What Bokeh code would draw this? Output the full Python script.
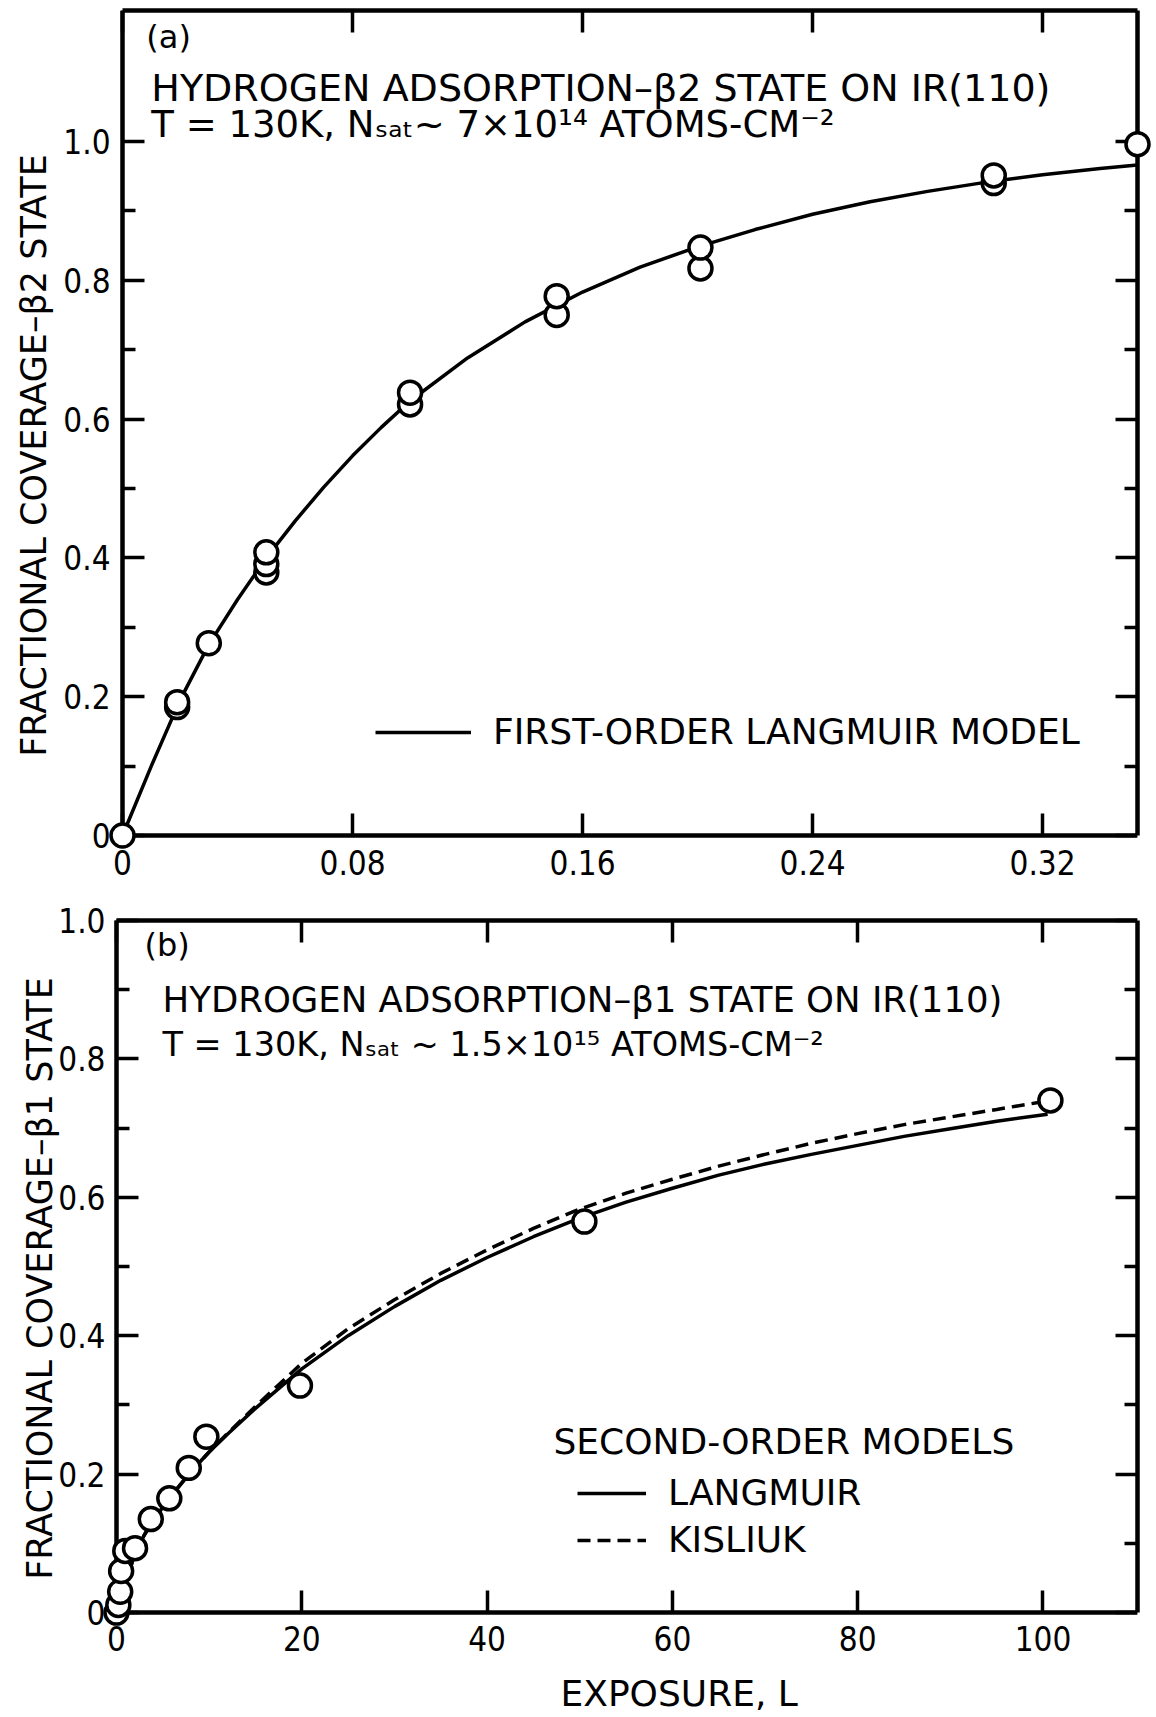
import math
from bokeh.plotting import figure
from bokeh.models import LinearAxis, FixedTicker, Range1d, Label, Legend, LegendItem
from bokeh.layouts import column
from bokeh.embed import file_html
from bokeh.resources import INLINE

# ---------------- panel (a) data ----------------
a_points_x = [0.0, 0.019, 0.019, 0.030, 0.050, 0.050, 0.050, 0.100, 0.100,
              0.151, 0.151, 0.201, 0.201, 0.303, 0.303, 0.353]
a_points_y = [0.000, 0.185, 0.192, 0.277, 0.379, 0.391, 0.408, 0.621, 0.638,
              0.750, 0.777, 0.817, 0.847, 0.940, 0.951, 0.996]
a_model_x = [0.0, 0.01, 0.02, 0.03, 0.04, 0.05, 0.06, 0.07, 0.08, 0.09, 0.10,
             0.12, 0.14, 0.16, 0.18, 0.20, 0.22, 0.24, 0.26, 0.28, 0.30, 0.32,
             0.34, 0.353]
a_model_y = [0.0, 0.100, 0.195, 0.275, 0.340, 0.400, 0.453, 0.502, 0.547, 0.588,
             0.626, 0.688, 0.740, 0.783, 0.819, 0.848, 0.873, 0.895, 0.913, 0.928,
             0.941, 0.952, 0.961, 0.966]
a_xticks = [0, 0.08, 0.16, 0.24, 0.32]
a_xtick_labels = ["0", "0.08", "0.16", "0.24", "0.32"]
a_yticks = [0, 0.2, 0.4, 0.6, 0.8, 1.0]
a_ytick_labels = ["0", "0.2", "0.4", "0.6", "0.8", "1.0"]
a_yminor = [0.1, 0.3, 0.5, 0.7, 0.9]

# ---------------- panel (b) data ----------------
b_points_x = [0.0, 0.2, 0.4, 0.5, 0.95, 2.0, 3.7, 5.7, 7.8, 9.7, 19.8, 50.5, 100.8]
b_points_y = [0.000, 0.011, 0.030, 0.060, 0.089, 0.093, 0.135, 0.165, 0.209,
              0.254, 0.328, 0.565, 0.740]
b_lang_x = [0, 1, 2, 3, 4, 5, 6, 8, 10, 12, 15, 20, 25, 30, 35, 40, 45, 50, 55,
            60, 65, 70, 75, 80, 85, 90, 95, 100.5]
b_lang_y = [0.0, 0.045, 0.085, 0.112, 0.134, 0.152, 0.170, 0.203, 0.232, 0.258,
            0.295, 0.352, 0.400, 0.442, 0.480, 0.513, 0.543, 0.570, 0.593, 0.613,
            0.632, 0.648, 0.662, 0.675, 0.688, 0.699, 0.710, 0.720]
b_kis_x = [0, 1, 2, 3, 4, 5, 6, 8, 10, 12, 15, 20, 25, 30, 35, 40, 45, 50, 55,
           60, 65, 70, 75, 80, 85, 90, 95, 99.5]
b_kis_y = [0.0, 0.045, 0.085, 0.112, 0.134, 0.152, 0.170, 0.203, 0.232, 0.259,
           0.298, 0.360, 0.410, 0.452, 0.490, 0.524, 0.555, 0.583, 0.606, 0.626,
           0.645, 0.662, 0.678, 0.692, 0.705, 0.716, 0.727, 0.737]
b_xticks = [0, 20, 40, 60, 80, 100]
b_xtick_labels = ["0", "20", "40", "60", "80", "100"]
b_yticks = [0, 0.2, 0.4, 0.6, 0.8, 1.0]
b_ytick_labels = ["0", "0.2", "0.4", "0.6", "0.8", "1.0"]
b_yminor = [0.1, 0.3, 0.5, 0.7, 0.9]

FONT = "DejaVu Sans"
TICK_FONT = "DejaVu Sans Condensed"
PAGE_X = 0        # Bokeh's page template has no body margin
TEXT_SHIFT = 13   # rendered labels sit this far below the requested baseline

# geometry (image pixels)
GA = dict(top=0, width=1156, height=888, left=0, right=10, tb=10, bb=27,
          xr=(-0.04244, 0.353), yr=(-0.03746, 1.1886), yaxis_top=1.1886)
GB = dict(top=888, width=1156, height=829, left=0, right=19, tb=0, bb=0,
          xr=(-12.52, 110.2), yr=(-0.1517, 1.0462), yaxis_top=1.0)


def frame_box(g):
    fx0 = PAGE_X + g["left"]
    fx1 = PAGE_X + g["width"] - g["right"]
    fy0 = g["top"] + g["tb"]
    fy1 = g["top"] + g["height"] - g["bb"]
    return fx0, fx1, fy0, fy1


def img_to_data(g, px, py):
    fx0, fx1, fy0, fy1 = frame_box(g)
    x = g["xr"][0] + (px - fx0) / (fx1 - fx0) * (g["xr"][1] - g["xr"][0])
    y = g["yr"][1] - (py - fy0) / (fy1 - fy0) * (g["yr"][1] - g["yr"][0])
    return x, y


def make_fig(g):
    p = figure(width=g["width"], height=g["height"],
               x_range=Range1d(*g["xr"]), y_range=Range1d(*g["yr"]),
               x_axis_location=None, y_axis_location=None,
               toolbar_location=None, output_backend="svg",
               min_border_left=g["left"], min_border_right=g["right"],
               min_border_top=g["tb"], min_border_bottom=g["bb"])
    p.outline_line_color = None
    p.xgrid.visible = False
    p.ygrid.visible = False
    p.background_fill_color = "white"
    p.border_fill_color = "white"
    return p


def overrides(ticks, labels):
    d = {}
    for t, l in zip(ticks, labels):
        d[t] = l
        d[str(t)] = l
    return d


def tick_axis(positions, length, bounds, fixed=None, line=False):
    """Axis that only draws inward ticks (and optionally its line); no labels."""
    kw = dict(ticker=FixedTicker(ticks=[], minor_ticks=positions), bounds=bounds,
              minor_tick_in=length, minor_tick_out=0, minor_tick_line_width=3.5,
              minor_tick_line_color="black", major_tick_in=0, major_tick_out=0,
              major_label_standoff=0,
              axis_line_width=4.5, axis_line_color="black" if line else None)
    if fixed is not None:
        kw["fixed_location"] = fixed
    return LinearAxis(**kw)


def label_axis(ticks, labels, standoff, fixed=None):
    """Axis that only draws tick labels."""
    kw = dict(ticker=FixedTicker(ticks=ticks, minor_ticks=[]),
              major_tick_in=0, major_tick_out=0, minor_tick_in=0, minor_tick_out=0,
              major_tick_line_color=None, minor_tick_line_color=None,
              axis_line_color=None,
              major_label_overrides=overrides(ticks, labels),
              major_label_text_font=TICK_FONT, major_label_text_font_size="33px",
              major_label_text_color="black", major_label_standoff=standoff)
    if fixed is not None:
        kw["fixed_location"] = fixed
    return LinearAxis(**kw)


def add_text(p, g, px, py, text, size, vertical=False, align="left"):
    if vertical:
        px -= TEXT_SHIFT
    else:
        py -= TEXT_SHIFT
    x, y = img_to_data(g, px, py)
    p.add_layout(Label(x=x, y=y, text=text, text_font=FONT,
                       angle=math.pi / 2 if vertical else 0.0,
                       text_font_size=f"{size}px", text_align=align,
                       text_baseline="alphabetic", text_color="black"))


def legend_loc(g, px_left, py_bottom):
    fx0, fx1, fy0, fy1 = frame_box(g)
    return (px_left - fx0, fy1 - py_bottom)


def add_frame(p, g, xticks, yticks, yminor, top_fixed=None):
    x_end = g["xr"][1]
    y_top = g["yaxis_top"]
    # left axis line at x = 0
    p.add_layout(tick_axis(yticks, 22, (0, y_top), fixed=0, line=True), "left")
    p.add_layout(tick_axis(yminor, 13, (0, y_top), fixed=0), "left")
    # bottom axis line at y = 0
    p.add_layout(tick_axis(xticks, 22, (0, x_end), fixed=0, line=True), "below")
    # top and right edges
    p.add_layout(tick_axis(xticks, 22, (0, x_end), fixed=top_fixed, line=True), "above")
    p.add_layout(tick_axis(yminor, 13, (0, y_top), line=True), "right")
    p.add_layout(tick_axis(yticks, 22, (0, y_top), fixed=x_end), "right")


# ---------------- figure (a) ----------------
pa = make_fig(GA)
add_frame(pa, GA, a_xticks, a_yticks, a_yminor)
pa.add_layout(label_axis(a_yticks, a_ytick_labels, 12, fixed=0), "left")
pa.add_layout(label_axis(a_xticks, a_xtick_labels, -12), "below")

ra = pa.line(a_model_x, a_model_y, line_width=3.5, line_color="black")
pa.scatter(a_points_x, a_points_y, marker="circle", size=23, fill_color="white",
           line_color="black", line_width=3.5, level="overlay")

add_text(pa, GA, 47, 455, "FRACTIONAL COVERAGE\u2013\u03b22 STATE", 35,
         vertical=True, align="center")
add_text(pa, GA, 147, 49, "(a)", 32)
add_text(pa, GA, 152, 100, "HYDROGEN ADSORPTION\u2013\u03b22 STATE ON IR(110)", 38)
add_text(pa, GA, 152, 137, "T = 130K,  N\u209b\u2090\u209c~ 7\u00d710\u00b9\u2074 ATOMS-CM\u207b\u00b2", 37)

leg_a = Legend(items=[LegendItem(label="FIRST-ORDER LANGMUIR MODEL", renderers=[ra])],
               location=legend_loc(GA, 375, 752), padding=0, margin=0, spacing=0,
               glyph_width=96, glyph_height=20, label_standoff=22,
               border_line_color=None, background_fill_alpha=0,
               label_text_font=FONT, label_text_font_size="36px",
               label_text_color="black")
pa.add_layout(leg_a)

# ---------------- figure (b) ----------------
pb = make_fig(GB)
add_frame(pb, GB, b_xticks, b_yticks, b_yminor, top_fixed=1.0)
pb.add_layout(label_axis(b_yticks, b_ytick_labels, 11, fixed=0), "left")
pb.add_layout(label_axis(b_xticks, b_xtick_labels, 13, fixed=0), "below")

rl = pb.line(b_lang_x, b_lang_y, line_width=3.5, line_color="black")
rk = pb.line(b_kis_x, b_kis_y, line_width=3.5, line_color="black", line_dash="13 7")
pb.scatter(b_points_x, b_points_y, marker="circle", size=23, fill_color="white",
           line_color="black", line_width=3.5, level="overlay")

add_text(pb, GB, 52, 1278, "FRACTIONAL COVERAGE\u2013\u03b21 STATE", 35,
         vertical=True, align="center")
add_text(pb, GB, 144, 957, "(b)", 32)
add_text(pb, GB, 162, 1012, "HYDROGEN ADSORPTION\u2013\u03b21 STATE ON IR(110)", 35.5)
add_text(pb, GB, 162, 1057, "T = 130K,  N\u209b\u2090\u209c ~ 1.5\u00d710\u00b9\u2075 ATOMS-CM\u207b\u00b2", 33.5)
add_text(pb, GB, 553, 1454, "SECOND-ORDER MODELS", 36)
add_text(pb, GB, 560, 1706, "EXPOSURE, L", 36)

leg_b = Legend(items=[LegendItem(label="LANGMUIR", renderers=[rl]),
                      LegendItem(label="KISLIUK", renderers=[rk])],
               location=legend_loc(GB, 577, 1560), padding=0, margin=0, spacing=6,
               glyph_width=69, glyph_height=20, label_standoff=22,
               border_line_color=None, background_fill_alpha=0,
               label_text_font=FONT, label_text_font_size="36px",
               label_text_color="black")
pb.add_layout(leg_b)

layout = column(pa, pb, spacing=0)
open("out.html", "w").write(file_html(layout, INLINE))
